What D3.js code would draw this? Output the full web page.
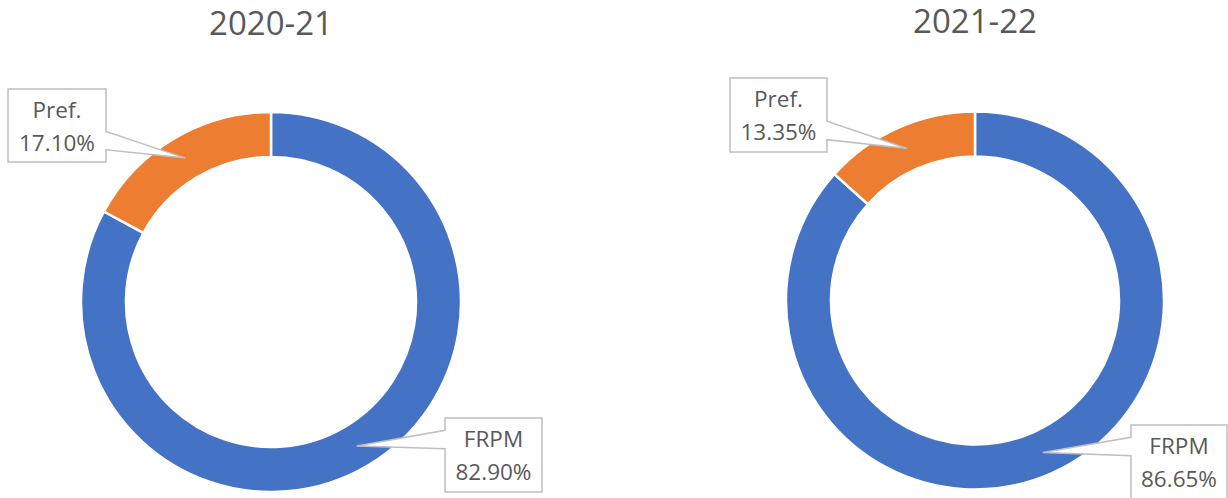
<!DOCTYPE html>
<html>
<head>
<meta charset="utf-8">
<script src="https://cdn.jsdelivr.net/npm/d3@7"></script>
<style>
  body { margin: 0; background: #fff; }
  svg { display: block; font-family: "Open Sans", sans-serif; }
</style>
</head>
<body>
<div id="chart"></div>
<script>
// data
var categories = ["FRPM", "Pref."];
var years = ["2020-21", "2021-22"];
var values2020 = [82.90, 17.10];
var values2021 = [86.65, 13.35];
var colors = ["#4472C4", "#ED7D31"];

var svg = d3.select("#chart")
            .append("svg")
            .attr("width", 1228)
            .attr("height", 498);

var color = d3.scaleOrdinal().domain(categories).range(colors);
var fmt = d3.format(".2f");

var pie = d3.pie()
            .sort(null)
            .value(function(d){ return d.value; });

// layout for each donut and its callout boxes
var layout = [
  { cx: 271, cy: 302, outer: 190, inner: 145, titleY: 35,
    boxes: { "FRPM": {x: 445, y: 418, w: 97, h: 74}, "Pref.": {x: 8, y: 89, w: 98, h: 73} } },
  { cx: 975, cy: 300.5, outer: 189, inner: 144, titleY: 33,
    boxes: { "FRPM": {x: 1131, y: 425, w: 96, h: 74}, "Pref.": {x: 730, y: 78, w: 97, h: 74} } }
];

var series = [values2020, values2021];

function calloutPath(b, tx, ty){
  var x0 = b.x, y0 = b.y, x1 = b.x + b.w, y1 = b.y + b.h;
  var midY = b.y + b.h / 2;
  var ya, yb;
  if (ty > midY) { ya = y0 + b.h * 7 / 12; yb = y0 + b.h * 10 / 12; }
  else { ya = y0 + b.h * 2 / 12; yb = y0 + b.h * 5 / 12; }
  if (tx > x1) {
    return "M" + x0 + "," + y0 + "L" + x1 + "," + y0 + "L" + x1 + "," + ya +
           "L" + tx + "," + ty + "L" + x1 + "," + yb + "L" + x1 + "," + y1 +
           "L" + x0 + "," + y1 + "Z";
  }
  return "M" + x0 + "," + y0 + "L" + x1 + "," + y0 + "L" + x1 + "," + y1 +
         "L" + x0 + "," + y1 + "L" + x0 + "," + yb + "L" + tx + "," + ty +
         "L" + x0 + "," + ya + "Z";
}

years.forEach(function(year, i){
  var L = layout[i];
  var data = categories.map(function(c, j){ return {cat: c, value: series[i][j]}; });

  var arc = d3.arc()
              .innerRadius(L.inner)
              .outerRadius(L.outer);

  var g = svg.append("g")
             .attr("transform", "translate(" + L.cx + "," + L.cy + ")");

  g.selectAll("path.slice")
   .data(pie(data))
   .enter()
   .append("path")
   .attr("class", "slice")
   .attr("d", arc)
   .attr("fill", function(d){ return color(d.data.cat); })
   .attr("stroke", "#fff")
   .attr("stroke-width", 2.5);

  // title
  svg.append("text")
     .attr("x", L.cx)
     .attr("y", L.titleY)
     .attr("text-anchor", "middle")
     .attr("font-size", 33)
     .attr("fill", "#595959")
     .text(year);

  // callouts
  pie(data).forEach(function(d){
    var c = arc.centroid(d);
    var b = L.boxes[d.data.cat];
    svg.append("path")
       .attr("d", calloutPath(b, L.cx + c[0], L.cy + c[1]))
       .attr("fill", "#fff")
       .attr("stroke", "#BFBFBF")
       .attr("stroke-width", 1.5);

    svg.append("text")
       .attr("x", b.x + b.w / 2)
       .attr("y", b.y + 29)
       .attr("text-anchor", "middle")
       .attr("font-size", 22.5)
       .attr("fill", "#595959")
       .text(d.data.cat);

    svg.append("text")
       .attr("x", b.x + b.w / 2)
       .attr("y", b.y + 62)
       .attr("text-anchor", "middle")
       .attr("font-size", 22.5)
       .attr("fill", "#595959")
       .text(fmt(d.data.value) + "%");
  });
});
</script>
</body>
</html>
